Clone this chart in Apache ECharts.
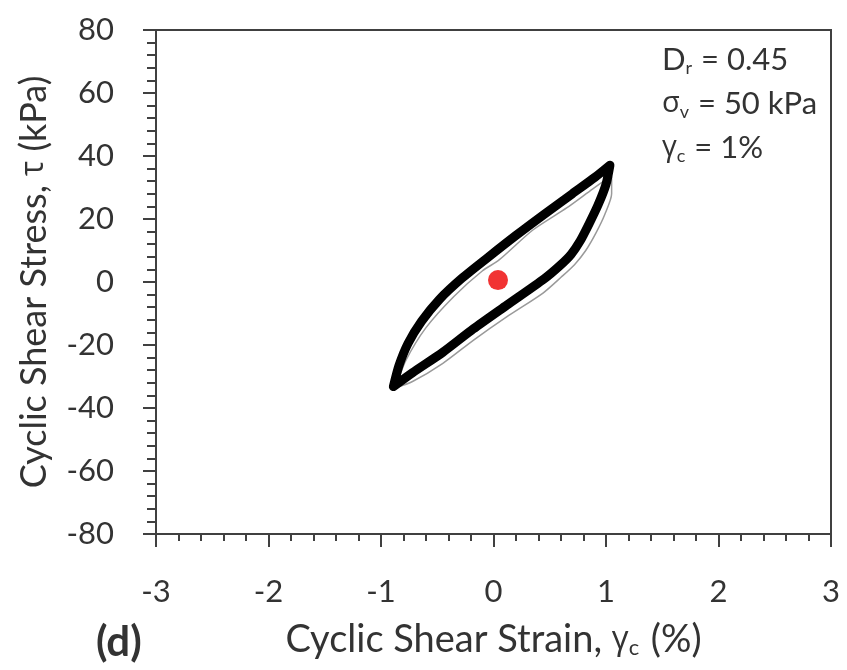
<!DOCTYPE html>
<html>
<head>
<meta charset="utf-8">
<script src="https://cdn.jsdelivr.net/npm/echarts@6/dist/echarts.min.js"></script>
<style>
  html, body { margin: 0; padding: 0; background: #fff; }
  #chart { width: 847px; height: 670px; }
</style>
</head>
<body>
<div id="chart"></div>
<script>
// Axis ranges and tick labels
const strainTicks = [-3, -2, -1, 0, 1, 2, 3];
const stressTicks = [-80, -60, -40, -20, 0, 20, 40, 60, 80];

// Final hysteresis loop (strain %, stress kPa): upper branch left tip -> right tip, then back along the lower branch
const loopStrain = [-0.89, -0.84, -0.76, -0.64, -0.48, -0.28, -0.05, 0.20, 0.45, 0.70, 0.90, 1.035,
                    1.00, 0.93, 0.85, 0.77, 0.69, 0.59, 0.45, 0.12, -0.18, -0.45, -0.72, -0.89];
const loopStress = [-33.2, -26.5, -19.5, -12.5, -5.5, 1.2, 7.8, 14.8, 21.5, 28.0, 33.2, 37.1,
                    31.0, 24.5, 18.5, 13.0, 8.8, 5.2, 1.0, -7.3, -14.9, -22.3, -28.8, -33.2];

// Earlier cycle, drawn as a thin grey trace
const earlyStrain = [-0.87, -0.78, -0.60, -0.35, -0.10, 0.05, 0.35, 0.65, 0.88, 1.00, 1.05,
                     1.05, 0.99, 0.91, 0.82, 0.72, 0.60, 0.44, 0.12, -0.18, -0.45, -0.72, -0.87];
const earlyStress = [-33.6, -25.0, -14.5, -4.5, 3.5, 7.0, 16.5, 23.5, 29.5, 32.5, 33.5,
                     28.0, 21.5, 15.5, 10.0, 5.5, 1.5, -3.5, -11.0, -18.5, -25.8, -31.6, -33.6];

// Starting point of the test
const startStrain = [0.04];
const startStress = [0.6];

const pairs = (xs, ys) => xs.map((x, i) => [x, ys[i]]);

const FONT = 'Lato';
const GREEK = 'Open Sans';
const AXIS_COLOR = '#404040';
const TEXT_COLOR = '#333333';

const chart = echarts.init(document.getElementById('chart'), null, { renderer: 'canvas' });

chart.setOption({
  backgroundColor: '#ffffff',
  animation: false,
  grid: {
    left: 156, right: 16, top: 30, bottom: 136,
    show: true, borderColor: AXIS_COLOR, borderWidth: 2, backgroundColor: 'transparent'
  },
  xAxis: {
    type: 'value',
    min: strainTicks[0], max: strainTicks[strainTicks.length - 1], interval: 1,
    name: 'Cyclic Shear Strain, {g|γ}{s|c} (%)',
    nameLocation: 'middle', nameGap: 86,
    nameTextStyle: {
      fontFamily: FONT, fontSize: 38, color: TEXT_COLOR,
      rich: {
        g: { fontFamily: GREEK, fontSize: 33, color: TEXT_COLOR },
        s: { fontFamily: FONT, fontSize: 22, color: TEXT_COLOR, padding: [17, 2, 0, 0] }
      }
    },
    axisLine: { onZero: false, lineStyle: { color: AXIS_COLOR, width: 2 } },
    axisTick: { show: true, length: 13, lineStyle: { color: AXIS_COLOR, width: 2 } },
    minorTick: { show: true, splitNumber: 5, length: 7, lineStyle: { color: AXIS_COLOR, width: 2 } },
    splitLine: { show: false },
    axisLabel: { fontFamily: FONT, fontSize: 31, color: TEXT_COLOR, margin: 42 }
  },
  yAxis: {
    type: 'value',
    min: stressTicks[0], max: stressTicks[stressTicks.length - 1], interval: 20,
    name: 'Cyclic Shear Stress, {g|τ} (kPa)',
    nameLocation: 'middle', nameGap: 104,
    nameTextStyle: {
      fontFamily: FONT, fontSize: 36, color: TEXT_COLOR,
      rich: { g: { fontFamily: GREEK, fontSize: 32, color: TEXT_COLOR } }
    },
    axisLine: { onZero: false, lineStyle: { color: AXIS_COLOR, width: 2 } },
    axisTick: { show: true, length: 13, lineStyle: { color: AXIS_COLOR, width: 2 } },
    minorTick: { show: true, splitNumber: 5, length: 9, lineStyle: { color: AXIS_COLOR, width: 2 } },
    splitLine: { show: false },
    axisLabel: { fontFamily: FONT, fontSize: 31, color: TEXT_COLOR, margin: 42 }
  },
  series: [
    {
      type: 'line', data: pairs(earlyStrain, earlyStress),
      smooth: 0.25, showSymbol: false, silent: true,
      lineStyle: { color: '#9a9a9a', width: 1.5 }
    },
    {
      type: 'line', data: pairs(loopStrain, loopStress),
      smooth: 0.25, showSymbol: false, silent: true,
      lineStyle: { color: '#000000', width: 9, join: 'round', cap: 'round' }
    },
    {
      type: 'scatter', data: pairs(startStrain, startStress),
      symbol: 'circle', symbolSize: 20,
      itemStyle: { color: '#ee0000' }, z: 5
    }
  ],
  graphic: [
    {
      type: 'text', left: 96, top: 621,
      style: { text: '(d)', fontFamily: FONT, fontWeight: 'bold', fontSize: 42, fill: TEXT_COLOR }
    },
    {
      type: 'text', left: 662, top: 38,
      style: {
        text: '{m|D}{s|r}{m| = 0.45}\n{g|σ}{s|v}{m| = 50 kPa}\n{g|γ}{s|c}{m| = 1%}',
        fontFamily: FONT, fontSize: 31, fill: TEXT_COLOR, lineHeight: 44,
        rich: {
          m: { fontFamily: FONT, fontSize: 31, fill: TEXT_COLOR, lineHeight: 44 },
          g: { fontFamily: GREEK, fontSize: 29, fill: TEXT_COLOR, lineHeight: 44 },
          s: { fontFamily: FONT, fontSize: 18, fill: TEXT_COLOR, padding: [16, 1, 0, 0], lineHeight: 44 }
        }
      }
    }
  ]
});
</script>
</body>
</html>
